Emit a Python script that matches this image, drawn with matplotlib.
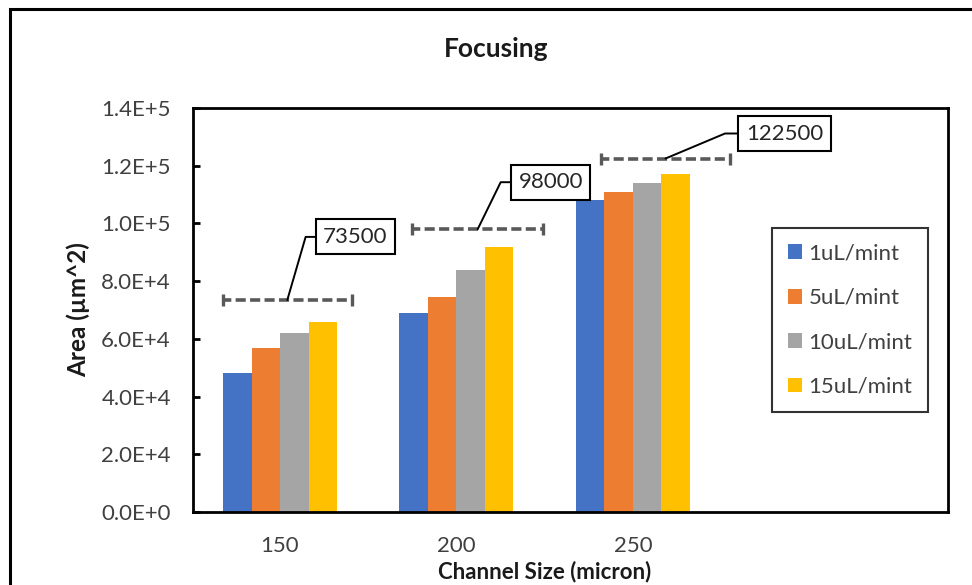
import numpy as np
import matplotlib
matplotlib.use("Agg")
import matplotlib.pyplot as plt
from matplotlib.patches import Rectangle
from matplotlib.ticker import FuncFormatter

plt.rcParams['font.family'] = ['Lato', 'DejaVu Sans']

# channel sizes and measured focusing area for each flow rate
channels = ['150', '200', '250']
rates = ['1uL/mint', '5uL/mint', '10uL/mint', '15uL/mint']
area_1 = [48000, 69000, 108000]
area_5 = [57000, 74500, 111000]
area_10 = [62000, 84000, 114000]
area_15 = [66000, 92000, 117000]
targets = [73500, 98000, 122500]

colors = ['#4472C4', '#ED7D31', '#A5A5A5', '#FFC000']

# reference line extents around each group and callout placement (pixels)
line_span = [(-0.325, 0.408), (-0.251, 0.491), (-0.181, 0.55)]
label_off = [(68, 63), (73, 47), (119, 25)]
leader_ang = [73.8, 63.9, 22.8]

fs = 16

fig = plt.figure(figsize=(9.72, 5.85), dpi=100)
ax = fig.add_axes([193/972, 1-512/585, (948-193)/972, (512-108)/585])

x = np.arange(len(channels))
w = 0.1615
series = [area_1, area_5, area_10, area_15]
for i, (vals, c, lab) in enumerate(zip(series, colors, rates)):
    ax.bar(x + (i - 1.5) * w, vals, w, color=c, label=lab, lw=0)

for k, t in enumerate(targets):
    x0 = x[k] + line_span[k][0]
    x1 = x[k] + line_span[k][1]
    ax.plot([x0, x1], [t, t], color='#595959', lw=2.6, ls=(0.5, (2.8, 1.2)),
            solid_capstyle='butt')
    ax.plot([x0, x1], [t, t], ls='none', marker='|', ms=8, mew=2.4, color='#595959')
    xm = (x0 + x1) / 2
    ax.annotate(str(t), xy=(xm, t), xytext=label_off[k], textcoords='offset pixels',
                ha='center', va='center', fontsize=fs, color='#262626',
                bbox=dict(boxstyle='square,pad=0.34', fc='white', ec='black', lw=1.5),
                arrowprops=dict(arrowstyle='-', color='black', lw=1.4, shrinkA=0, shrinkB=0,
                                connectionstyle=f'angle,angleA=0,angleB={leader_ang[k]},rad=0'))

def sci(v, pos):
    if v == 0:
        return '0.0E+0'
    e = int(np.floor(np.log10(abs(v)) + 1e-9))
    return f'{v / 10**e:.1f}E+{e}'

ax.set_ylim(0, 140000)
ax.set_yticks(np.arange(0, 140001, 20000))
ax.yaxis.set_major_formatter(FuncFormatter(sci))
ax.set_xlim(-0.493, 3.785)
ax.set_xticks(x)
ax.set_xticklabels(channels)
ax.tick_params(axis='y', direction='in', length=5, width=2, pad=16, labelsize=fs,
               labelcolor='#404040')
ax.tick_params(axis='x', length=0, pad=17, labelsize=fs, labelcolor='#404040')
for s in ax.spines.values():
    s.set_linewidth(2)
    s.set_color('black')

leg = ax.legend(loc='upper left', bbox_to_anchor=(772/972, 1-228/585),
                bbox_transform=fig.transFigure, fontsize=fs, frameon=True,
                fancybox=False, handlelength=0.64, handleheight=0.64,
                handletextpad=0.3, labelspacing=1.1, borderpad=0.7,
                borderaxespad=0)
leg.get_frame().set_edgecolor('black')
leg.get_frame().set_linewidth(1.5)
for t in leg.get_texts():
    t.set_color('#404040')

fig.text(496/972, 1-49/585, 'Focusing', ha='center', va='center', fontsize=19,
         fontweight='bold', color='#1a1a1a')
fig.text(78/972, 1-310/585, 'Area (µm^2)', ha='center', va='center', rotation=90,
         fontsize=17.5, fontweight='bold', color='#1a1a1a')
fig.text(545/972, 1-572/585, 'Channel Size (micron)', ha='center', va='center',
         fontsize=fs, fontweight='bold', color='#1a1a1a')

# chart border, running off the right and bottom edges
fig.patches.append(Rectangle((9.5/972, -0.1), 1.2, 1.1 - 9.5/585, transform=fig.transFigure,
                             fill=False, lw=2.2, ec='black'))

fig.savefig('out.png', dpi=100)
